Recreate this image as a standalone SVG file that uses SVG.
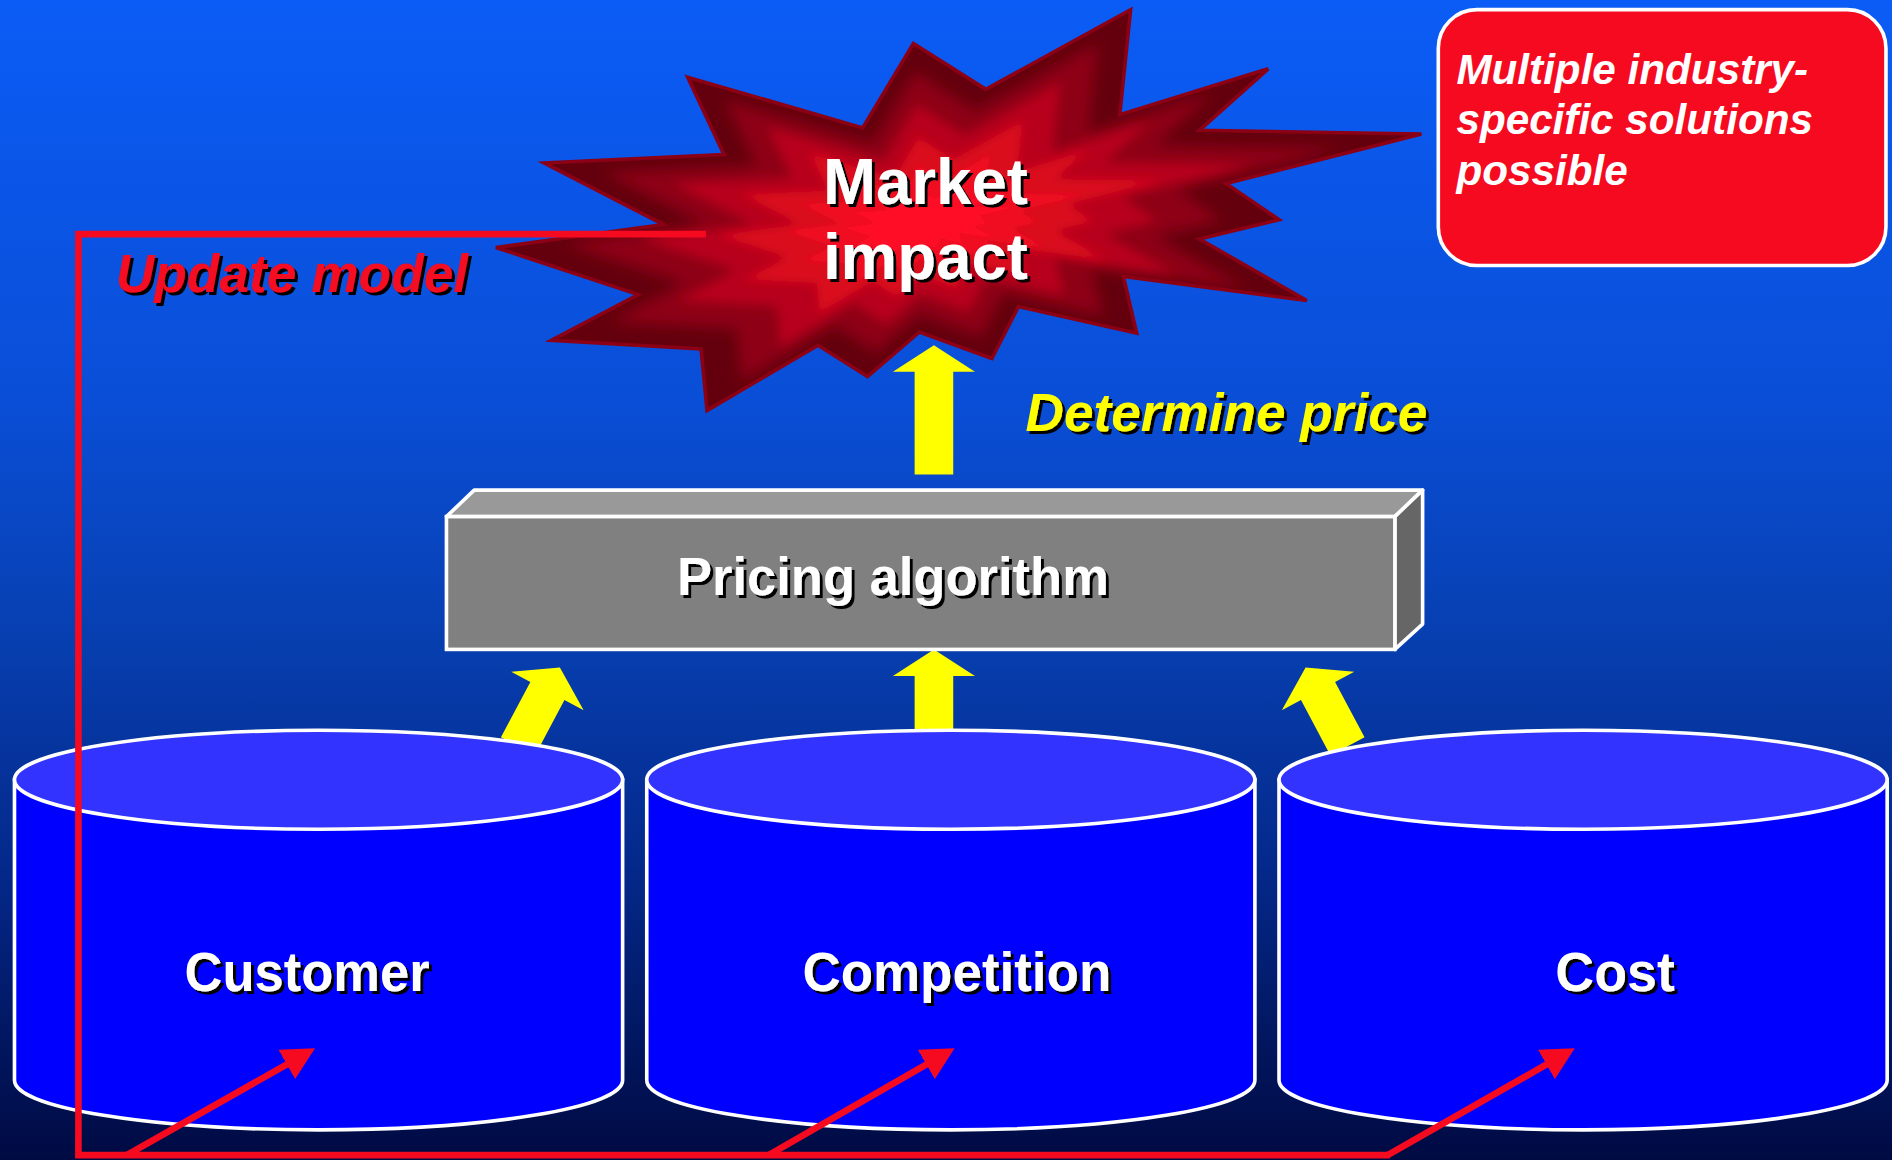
<svg xmlns="http://www.w3.org/2000/svg" width="1892" height="1160" viewBox="0 0 1892 1160">
<defs>
<linearGradient id="bg" x1="0" y1="0" x2="0" y2="1">
<stop offset="0" stop-color="#0b5cf6"/>
<stop offset="0.35" stop-color="#0a4ed6"/>
<stop offset="0.55" stop-color="#073fb0"/>
<stop offset="0.75" stop-color="#04288a"/>
<stop offset="1" stop-color="#000a42"/>
</linearGradient>
<polygon id="starshape" points="937,8 928,95 1051,57 994,108 1178,111 1016,152 1060,182 994,198 1083,249 931,229 942,276 844,254 822,297 762,275 719,312 678,286 586,340 581,289 457,282 529,244 411,205 550,186 451,135 600,128 570,64 715,106 757,36 817,74"/>
<clipPath id="starclip"><use href="#starshape"/></clipPath>
<filter id="blur" x="-20%" y="-20%" width="140%" height="140%"><feGaussianBlur stdDeviation="7"/></filter>
<filter id="sh" x="-10%" y="-10%" width="120%" height="130%">
<feDropShadow dx="2.5" dy="2.5" stdDeviation="0" flood-color="#000" flood-opacity="1"/>
</filter>
<marker id="ra" markerUnits="userSpaceOnUse" markerWidth="28" markerHeight="28" refX="1" refY="14" orient="auto">
<path d="M0,0 L27,14 L0,28 z" fill="#f50a20"/>
</marker>
<style>
.lbl{font-family:"Liberation Sans",Arial,sans-serif;font-weight:bold;fill:#fff;filter:url(#sh)}
.note{font-family:"Liberation Sans",Arial,sans-serif;font-weight:bold;font-style:italic;fill:#fff;font-size:35px}
.ital{font-family:"Liberation Sans",Arial,sans-serif;font-weight:bold;font-style:italic;filter:url(#sh)}
.cylbody{fill:#0000ff;stroke:#fff;stroke-width:3}
.cyltop{fill:#3333ff;stroke:#fff;stroke-width:3}
.yarrow{fill:#ffff00}
.fb{fill:none;stroke:#f50a20;stroke-width:5.5;stroke-linejoin:miter}
</style>
</defs>
<rect x="0" y="0" width="1892" height="1160" fill="url(#bg)"/>
<g transform="scale(1.20663,1.20708)">

<g id="connectors-flow">
<polygon class="yarrow" transform="translate(774,286)" points="0,0 34,22 16,22 16,107 -16,107 -16,22 -34,22"/>
<polygon class="yarrow" transform="translate(774,538)" points="0,0 34,22 16,22 16,70 -16,70 -16,22 -34,22"/>
<polygon class="yarrow" transform="translate(464,553) rotate(28)" points="0,0 34,22 16,22 16,74 -16,74 -16,22 -34,22"/>
<polygon class="yarrow" transform="translate(1082,553) rotate(-28)" points="0,0 34,22 16,22 16,74 -16,74 -16,22 -34,22"/>
<text class="ital" x="850" y="357" font-size="44" fill="#ffff00" textLength="333" lengthAdjust="spacingAndGlyphs">Determine price</text>
</g>

<g id="market-impact">
<g clip-path="url(#starclip)">
<use href="#starshape" fill="#64000e"/>
<use href="#starshape" fill="#8e0014" transform="translate(765,185) scale(0.84) translate(-765,-185)" filter="url(#blur)"/>
<use href="#starshape" fill="#b8021a" transform="translate(765,185) scale(0.66) translate(-765,-185)" filter="url(#blur)"/>
<use href="#starshape" fill="#da071f" transform="translate(765,185) scale(0.48) translate(-765,-185)" filter="url(#blur)"/>
<use href="#starshape" fill="#f00a22" transform="translate(765,185) scale(0.32) translate(-765,-185)" filter="url(#blur)"/>
<use href="#starshape" fill="#ff0e26" transform="translate(765,185) scale(0.18) translate(-765,-185)" filter="url(#blur)"/>
</g>
<use href="#starshape" fill="none" stroke="#8b0014" stroke-width="3" stroke-linejoin="miter"/>
<text class="lbl" x="767" y="169" font-size="54" text-anchor="middle" textLength="170" lengthAdjust="spacingAndGlyphs">Market</text>
<text class="lbl" x="767" y="231" font-size="54" text-anchor="middle" textLength="170" lengthAdjust="spacingAndGlyphs">impact</text>
</g>

<g id="note">
<rect x="1192" y="8" width="371" height="212" rx="32" ry="32" fill="#f50a20" stroke="#fff" stroke-width="3"/>
<text class="note" x="1207" y="70">Multiple industry-</text>
<text class="note" x="1207" y="111">specific solutions</text>
<text class="note" x="1207" y="153">possible</text>
</g>

<g id="pricing-algorithm">
<polygon points="370,428 393,406 1179,406 1156,428" fill="#999999" stroke="#fff" stroke-width="3" stroke-linejoin="round"/>
<polygon points="1156,428 1179,406 1179,517 1156,538" fill="#666666" stroke="#fff" stroke-width="3" stroke-linejoin="round"/>
<rect x="370" y="428" width="786" height="110" fill="#808080" stroke="#fff" stroke-width="3"/>
<text class="lbl" x="561" y="493" font-size="44" textLength="358" lengthAdjust="spacingAndGlyphs">Pricing algorithm</text>
</g>

<g id="customer">
<path class="cylbody" d="M12,646 L12,895 A252,41 0 0 0 516,895 L516,646 Z"/>
<ellipse class="cyltop" cx="264" cy="646" rx="252" ry="41"/>
<text class="lbl" x="153" y="821" font-size="46" textLength="203" lengthAdjust="spacingAndGlyphs">Customer</text>
</g>

<g id="competition">
<path class="cylbody" d="M536,646 L536,895 A252,41 0 0 0 1040,895 L1040,646 Z"/>
<ellipse class="cyltop" cx="788" cy="646" rx="252" ry="41"/>
<text class="lbl" x="665" y="821" font-size="46" textLength="256" lengthAdjust="spacingAndGlyphs">Competition</text>
</g>

<g id="cost">
<path class="cylbody" d="M1060,646 L1060,895 A252,41 0 0 0 1564,895 L1564,646 Z"/>
<ellipse class="cyltop" cx="1312" cy="646" rx="252" ry="41"/>
<text class="lbl" x="1289" y="821" font-size="46" textLength="99" lengthAdjust="spacingAndGlyphs">Cost</text>
</g>

<g id="connectors-feedback">
<path class="fb" d="M585,194 L65,194 L65,957 L1152,957" stroke-linecap="butt"/>
<line class="fb" x1="105" y1="957" x2="238.5" y2="881.3" marker-end="url(#ra)"/>
<line class="fb" x1="637" y1="957" x2="768.6" y2="881.4" marker-end="url(#ra)"/>
<line class="fb" x1="1150" y1="957" x2="1282.5" y2="881.4" marker-end="url(#ra)"/>
<text class="ital" x="96" y="242" font-size="44" fill="#f50a20" textLength="292" lengthAdjust="spacingAndGlyphs">Update model</text>
</g>

</g>
</svg>
